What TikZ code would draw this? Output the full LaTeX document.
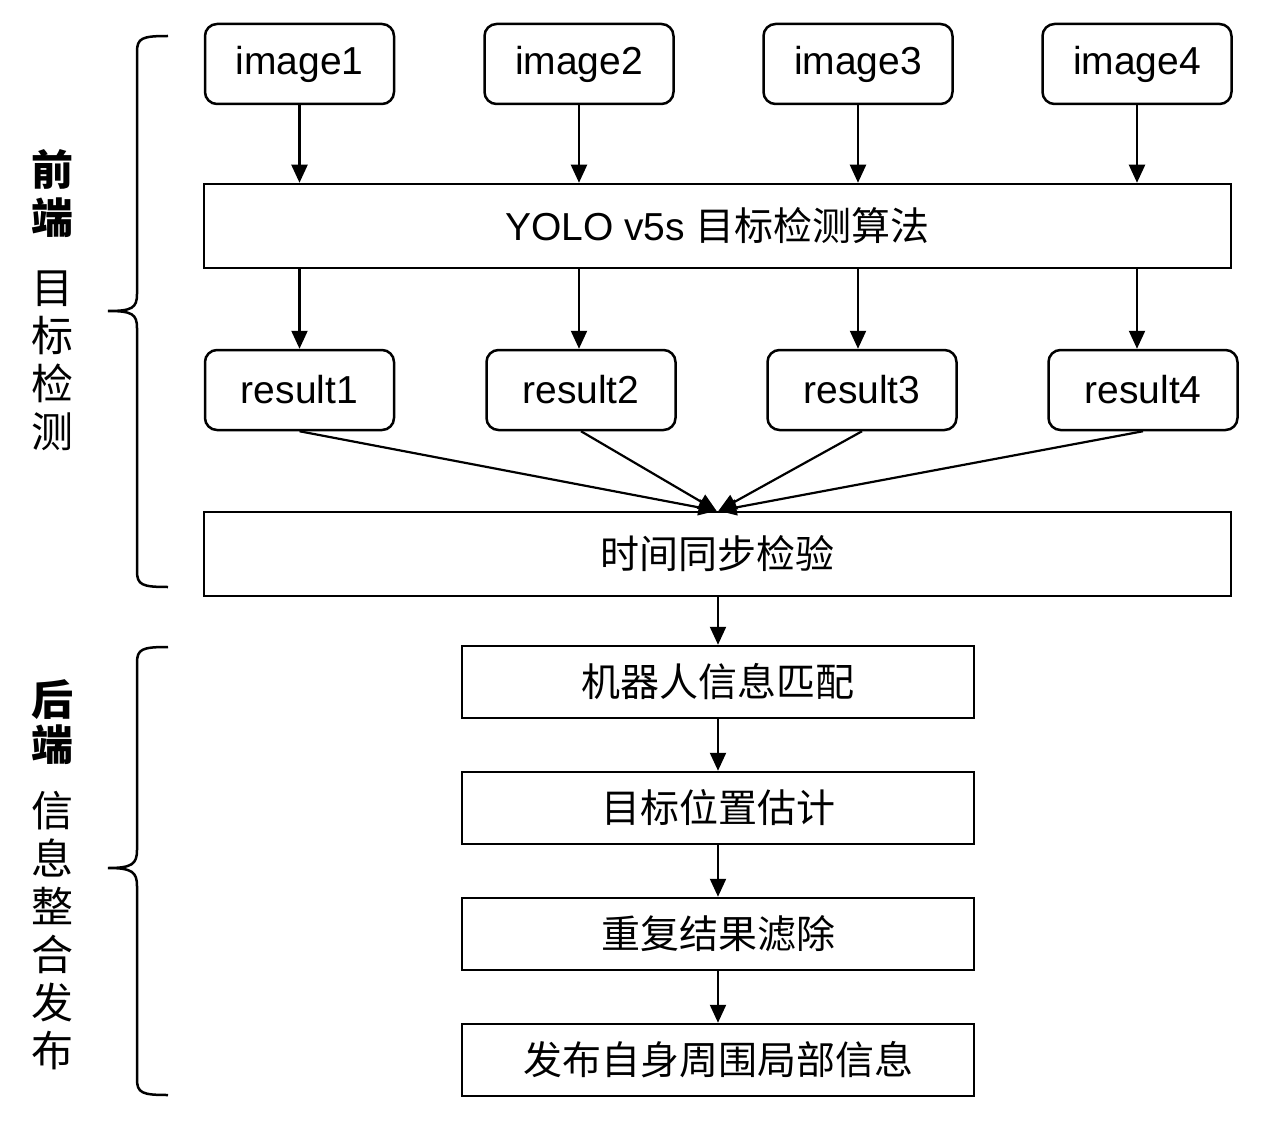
\documentclass[tikz,border=0pt]{standalone}
\usepackage{fontspec}
\setmainfont{Liberation Sans}
\newfontfamily\cjk{Noto Sans CJK SC}
\usetikzlibrary{arrows.meta,positioning}
\tikzset{
	rbox/.style    = {draw, line width=2.5pt, rounded corners=12pt, inner sep=0pt,
		minimum width=189pt, minimum height=80pt, font=\fontsize{39}{42}\selectfont},
	wide/.style    = {draw, line width=2.5pt, inner sep=0pt,
		minimum width=1027pt, minimum height=84pt, font=\fontsize{39}{42}\selectfont},
	stepbox/.style = {draw, line width=2.5pt, inner sep=0pt,
		minimum width=512pt, minimum height=72pt, font=\fontsize{39}{42}\selectfont\cjk},
	flow/.style    = {line width=2.2pt, ->},
	brace/.style   = {line width=2.5pt},
	side/.style    = {align=center, inner sep=0pt, font=\fontsize{42}{48}\selectfont\cjk}
}

\begin{document}
\begin{tikzpicture}[x=1pt, y=-1pt, >={Triangle[length=18pt,width=16pt]}]
		\useasboundingbox (0,0) rectangle (1271,1123);
		% front end: images and detection
		\node[rbox] (img1) at (299.5,64) {image1};
		\node[rbox] (img2) at (579,64) {image2};
		\node[rbox] (img3) at (858,64) {image3};
		\node[rbox] (img4) at (1137,64) {image4};
		\node[wide] (yolo) at (717.5,226) {YOLO v5s {\cjk 目标检测算法}};
		\node[rbox] (res1) at (299.5,390) {result1};
		\node[rbox] (res2) at (581,390) {result2};
		\node[rbox] (res3) at (862,390) {result3};
		\node[rbox] (res4) at (1143,390) {result4};
		\node[wide] (sync) at (717.5,554) {\cjk 时间同步检验};
		
		% back end steps
		\node[stepbox] (match) at (718,682) {机器人信息匹配};
		\node[stepbox] (est)   at (718,808) {目标位置估计};
		\node[stepbox] (filt)  at (718,934) {重复结果滤除};
		\node[stepbox] (pub)   at (718,1060) {发布自身周围局部信息};
		
		\foreach \i in {1,...,4}{
			\draw[flow] (img\i.south) -- (img\i.south |- yolo.north);
			\draw[flow] (img\i.south |- yolo.south) -- (img\i.south |- res\i.north);
		}
		\draw[flow] (res1.south) -- ([xshift=-1pt]sync.north);
		\draw[flow] (res2.south) -- ([xshift=-1pt]sync.north);
		\draw[flow] (res3.south) -- ([xshift=1pt]sync.north);
		\draw[flow] (res4.south) -- ([xshift=1pt]sync.north);
		\draw[flow] (match.north |- sync.south) -- (match.north);
		\draw[flow] (match) -- (est);
		\draw[flow] (est) -- (filt);
		\draw[flow] (filt) -- (pub);
		
		% brackets and side labels
		\draw[brace] (168,36) .. controls (142,36) and (137,38) .. (137,52) -- (137,294)
			.. controls (137,308) and (132,311) .. (108,311)
			.. controls (132,311) and (137,314) .. (137,328) -- (137,571)
			.. controls (137,585) and (142,587) .. (168,587);
		\draw[brace] (168,647) .. controls (142,647) and (137,649) .. (137,663) -- (137,850)
			.. controls (137,864) and (132,868) .. (108,868)
			.. controls (132,868) and (137,872) .. (137,886) -- (137,1079)
			.. controls (137,1093) and (142,1095) .. (168,1095);
		\node[side, font=\fontsize{42}{48}\selectfont\cjk\bfseries] (fe) at (52,194) {前\\端};
		\node[side] (det) at (52,361) {目\\标\\检\\测};
		\node[side, font=\fontsize{42}{45}\selectfont\cjk\bfseries] (be) at (52,722) {后\\端};
		\node[side] (pubtxt) at (52,931) {信\\息\\整\\合\\发\\布};
		
		\end{tikzpicture}
\end{document}
